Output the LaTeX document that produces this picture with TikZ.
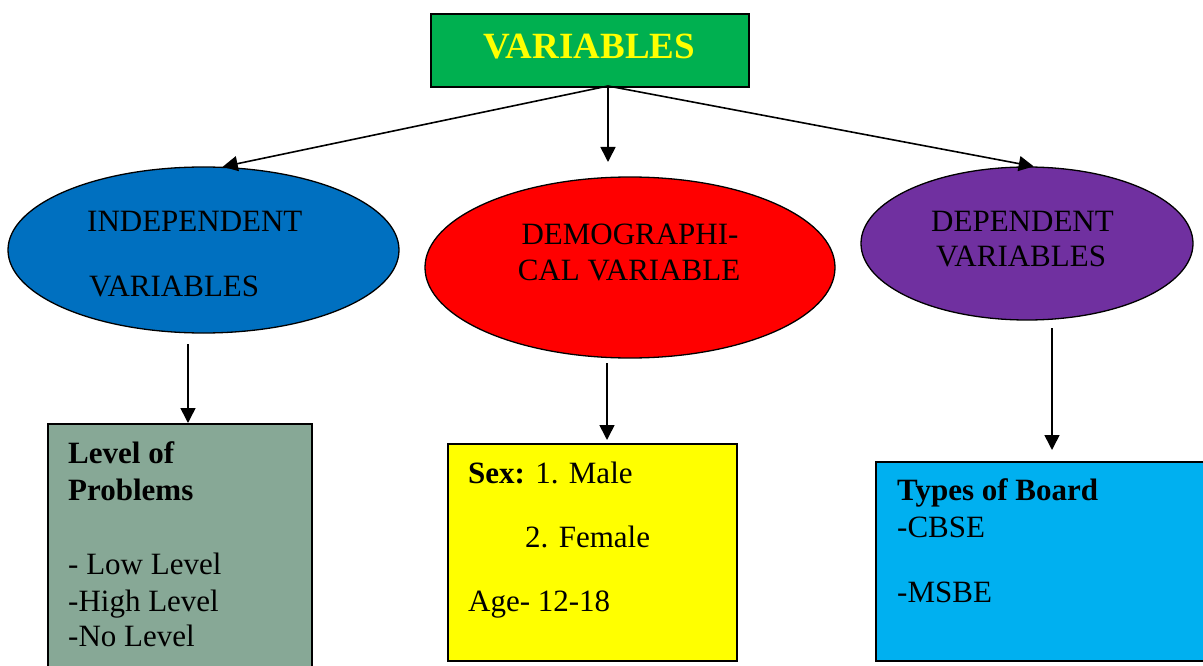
\documentclass[tikz,border=0pt]{standalone}
\usepackage{fontspec}
\setmainfont{Liberation Serif}
\usetikzlibrary{arrows.meta,shapes.geometric}
\definecolor{topgreen}{HTML}{00B050}
\definecolor{topyellow}{HTML}{FFFF00}
\definecolor{indblue}{HTML}{0070C0}
\definecolor{demred}{HTML}{FF0000}
\definecolor{deppurple}{HTML}{7030A0}
\definecolor{levgray}{HTML}{87A896}
\definecolor{sexyellow}{HTML}{FFFF00}
\definecolor{boardcyan}{HTML}{00B0F0}
\begin{document}
\begin{tikzpicture}[x=1pt,y=-1pt,
  txt/.style={anchor=base west, inner sep=0pt, font=\fontsize{31}{37}\selectfont},
  ctxt/.style={anchor=base, inner sep=0pt, font=\fontsize{31}{37}\selectfont},
  arr/.style={line width=1.6pt, -{Triangle[length=15pt,width=15pt]}},
  oval/.style={ellipse, draw=black, line width=1.3pt, inner sep=0pt},
  box/.style={rectangle, draw=black, line width=2pt, inner sep=0pt, anchor=north west}]
\useasboundingbox (0,0) rectangle (1203,666);
\clip (0,0) rectangle (1203,666);
% top box
\node[box, fill=topgreen, minimum width=318pt, minimum height=73pt] (top) at (430,13) {};
\node[anchor=base, inner sep=0pt, text=topyellow, font=\fontsize{37}{44}\selectfont\bfseries] (toptxt) at (589.5,59) {VARIABLES};
% ellipses
\node[oval, fill=indblue, minimum width=391pt, minimum height=166pt] (indep) at (203.5,250) {};
\node[oval, fill=demred, minimum width=410pt, minimum height=181pt] (demog) at (630,267.5) {};
\node[oval, fill=deppurple, minimum width=332pt, minimum height=153pt] (dep) at (1027,243.5) {};
\node[txt] (ind1) at (87,232) {INDEPENDENT};
\node[txt] (ind2) at (89,296) {VARIABLES};
\node[ctxt] (dem1) at (630,244) {DEMOGRAPHI-};
\node[ctxt] (dem2) at (629,280) {CAL VARIABLE};
\node[ctxt] (dep1) at (1022.5,231) {DEPENDENT};
\node[ctxt] (dep2) at (1021,266) {VARIABLES};
% boxes
\node[box, fill=levgray, minimum width=264pt, minimum height=270pt] (lbox) at (47,423) {};
\node[box, fill=sexyellow, minimum width=289pt, minimum height=217pt] (mbox) at (447,443) {};
\node[box, fill=boardcyan, minimum width=360pt, minimum height=199pt] (rbox) at (875,461) {};
\node[txt, font=\fontsize{31}{37}\selectfont\bfseries] (l1) at (68,463) {Level of};
\node[txt, font=\fontsize{31}{37}\selectfont\bfseries] (l2) at (68,500) {Problems};
\node[txt] (l3) at (68,574) {- Low Level};
\node[txt] (l4) at (68,611) {-High Level};
\node[txt] (l5) at (68,646) {-No Level};
\node[txt] (m1) at (468,483) {\textbf{Sex:} 1. Male};
\node[txt] (m2) at (525,547) {2. Female};
\node[txt] (m3) at (468,611) {Age- 12-18};
\node[txt, font=\fontsize{31}{37}\selectfont\bfseries] (r1) at (897,500) {Types of Board};
\node[txt] (r2) at (897,537) {-CBSE};
\node[txt] (r3) at (897,602) {-MSBE};
% connectors
\coordinate (src) at (608,86);
\coordinate (midtip) at (608,162);
\draw[arr] (src) -- (indep.77);
\draw[arr] (src) -- (midtip);
\draw[arr] (src) -- (dep.85);
\coordinate (s1) at (188,344);
\coordinate (s2) at (607,363);
\coordinate (s3) at (1052,328);
\draw[arr] (s1) -- (s1 |- lbox.north);
\draw[arr, shorten >=3pt] (s2) -- (s2 |- mbox.north);
\draw[arr, shorten >=11pt] (s3) -- (s3 |- rbox.north);
\end{tikzpicture}
\end{document}
